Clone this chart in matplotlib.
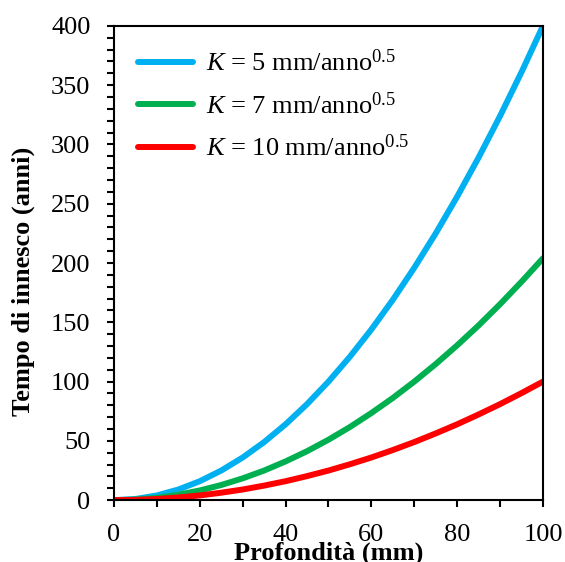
import matplotlib
matplotlib.use("Agg")
import matplotlib.pyplot as plt
from matplotlib.ticker import MultipleLocator

plt.rcParams['font.family'] = 'Liberation Serif'
plt.rcParams['mathtext.fontset'] = 'custom'
plt.rcParams['mathtext.rm'] = 'Liberation Serif'
plt.rcParams['mathtext.it'] = 'Liberation Serif:italic'

# depth (mm) and initiation time (years)
profondita = [0, 5, 10, 15, 20, 25, 30, 35, 40, 45, 50,
              55, 60, 65, 70, 75, 80, 85, 90, 95, 100]
t_k5 = [0, 1, 4, 9, 16, 25, 36, 49, 64, 81, 100,
        121, 144, 169, 196, 225, 256, 289, 324, 361, 400]
t_k7 = [0, 0.5, 2, 4.6, 8.2, 12.8, 18.4, 25, 32.7, 41.3, 51,
        61.7, 73.5, 86.2, 100, 114.8, 130.6, 147.4, 165.3, 184.2, 204]
t_k10 = [0, 0.25, 1, 2.3, 4, 6.3, 9, 12.3, 16, 20.3, 25,
         30.3, 36, 42.3, 49, 56.3, 64, 72.3, 81, 90.3, 100]

serie = [
    (t_k5, '#00B0F0', r'$K$ = 5 mm/anno$^{0.5}$'),
    (t_k7, '#00B050', r'$K$ = 7 mm/anno$^{0.5}$'),
    (t_k10, '#FF0000', r'$K$ = 10 mm/anno$^{0.5}$'),
]

fig = plt.figure(figsize=(5.65, 5.62), dpi=100)
ax = fig.add_axes([0.2018, 0.110, 0.7592, 0.844])

for valori, colore, etichetta in serie:
    ax.plot(profondita, valori, color=colore, linewidth=4.3,
            solid_capstyle='round', label=etichetta)

ax.set_xlim(0, 100)
ax.set_ylim(0, 400)
ax.xaxis.set_major_locator(MultipleLocator(20))
ax.xaxis.set_minor_locator(MultipleLocator(10))
ax.yaxis.set_major_locator(MultipleLocator(50))
ax.yaxis.set_minor_locator(MultipleLocator(10))
ax.tick_params(axis='both', which='both', direction='out', length=5,
               width=1.5, labelsize=19, pad=12, top=False, right=False)
for s in ax.spines.values():
    s.set_linewidth(1.5)

ax.set_xlabel('Profondità (mm)', fontsize=19, fontweight='bold', labelpad=-3)
ax.set_ylabel('Tempo di innesco (anni)', fontsize=19, fontweight='bold')
ax.yaxis.set_label_coords(-0.185, 0.462)

leg = ax.legend(loc='upper left', frameon=False, fontsize=19,
                handlelength=2.1, handletextpad=0.5, labelspacing=0.6,
                bbox_to_anchor=(0.0, 1.0))

fig.savefig('out.png', dpi=100)
